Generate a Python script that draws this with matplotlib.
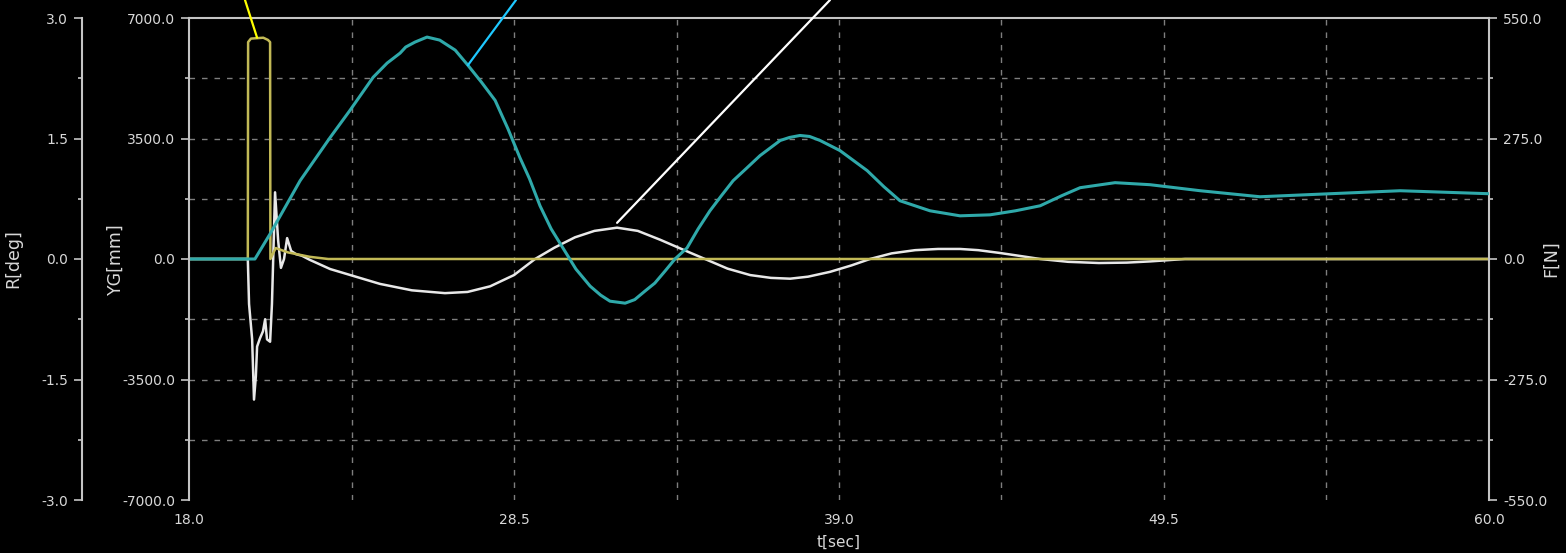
import matplotlib
matplotlib.use("Agg")
import matplotlib.pyplot as plt
import numpy as np

# time axis ticks
t_ticks = [18.0, 28.5, 39.0, 49.5, 60.0]
r_ticks = [-3.0, -1.5, 0.0, 1.5, 3.0]
yg_ticks = [-7000.0, -3500.0, 0.0, 3500.0, 7000.0]
f_ticks = [-550.0, -275.0, 0.0, 275.0, 550.0]

# YG[mm] (cyan)
t_yg = [18.0, 20.13, 20.62, 21.59, 22.56, 23.2, 23.95, 24.4, 24.82, 25.0, 25.3, 25.69, 26.1,
        26.6, 27.01, 27.45, 27.89, 28.3, 28.69, 29.0, 29.34, 29.7, 30.08, 30.5, 30.96, 31.3,
        31.6, 32.09, 32.4, 32.73, 33.05, 33.38, 33.7, 34.09, 34.45, 34.83, 35.2, 35.58, 36.0,
        36.45, 37.1, 37.4, 37.74, 38.05, 38.39, 39.03, 39.91, 40.45, 40.97, 41.94, 42.91,
        43.88, 44.7, 45.5, 46.2, 46.79, 47.92, 49.05, 50.67, 52.6, 54.87, 57.13, 60.0]
yg = [0, 0, 730, 2275, 3529, 4317, 5279, 5690, 5980, 6155, 6300, 6446, 6358,
      6067, 5629, 5134, 4608, 3792, 2946, 2333, 1546, 875, 321, -292, -788, -1050,
      -1225, -1283, -1180, -933, -700, -350, 0, 321, 875, 1400, 1838, 2275, 2625,
      3004, 3442, 3530, 3588, 3559, 3442, 3150, 2567, 2100, 1692, 1400, 1254,
      1283, 1400, 1546, 1840, 2071, 2217, 2158, 1983, 1808, 1896, 1983, 1896]

# R[deg] (white)
t_r = [18.0, 19.90, 19.94, 20.04, 20.10, 20.16, 20.20, 20.29, 20.39, 20.46, 20.52, 20.62,
       20.68, 20.78, 20.88, 20.97, 21.07, 21.17, 21.30, 21.46, 21.65, 21.9, 22.56, 23.3,
       24.17, 25.2, 26.27, 27.0, 27.73, 28.5, 29.18, 29.8, 30.47, 31.1, 31.83, 32.5,
       33.22, 34.0, 34.67, 35.4, 36.13, 36.8, 37.42, 38.0, 38.71, 39.4, 40.0, 40.7,
       41.46, 42.2, 42.91, 43.5, 44.2, 44.9, 45.5, 46.4, 47.4, 48.3, 49.05, 50.18, 60.0]
r = [0, 0, -0.56, -1.0, -1.75, -1.46, -1.09, -0.99, -0.9, -0.75, -1.0, -1.03,
     -0.56, 0.83, 0.23, -0.11, 0.0, 0.26, 0.1, 0.06, 0.04, -0.01, -0.125, -0.21,
     -0.31, -0.39, -0.425, -0.41, -0.34, -0.2, 0.0, 0.14, 0.27, 0.35, 0.39, 0.35,
     0.24, 0.11, 0.0, -0.12, -0.2, -0.235, -0.245, -0.22, -0.16, -0.08, 0.0, 0.07,
     0.11, 0.125, 0.125, 0.11, 0.075, 0.035, 0.0, -0.035, -0.05, -0.045, -0.03, 0.0, 0.0]

# F[N] (yellow)
t_f = [18.0, 19.90, 19.91, 20.0, 20.4, 20.55, 20.62, 20.63, 20.8, 21.2, 21.9, 22.5, 60.0]
f = [0, 0, 495, 503, 505, 500, 495, 0, 25, 15, 5, 0, 0]

W, H = 1566, 553
fig = plt.figure(figsize=(W / 100, H / 100), dpi=100, facecolor="black")
L, R_, T, B = 189, 1489, 18, 500
rect = [L / W, 1 - B / H, (R_ - L) / W, (B - T) / H]

spine_c = "#c4c4c4"
text_c = "#d8d8d8"
grid_c = "#7e7e7e"

axR = fig.add_axes(rect, facecolor="black")
axF = axR.twinx()
axY = axR.twinx()

# grid on the bottom axes
for v in [-2.25, -1.5, -0.75, 0.75, 1.5, 2.25]:
    axR.axhline(v, color=grid_c, lw=1.0, ls=(0, (4, 5)), zorder=0)
for v in np.arange(18 + 5.25, 60, 5.25):
    axR.axvline(v, color=grid_c, lw=1.0, ls=(0, (4, 5)), zorder=0)

axR.plot(t_r, r, color="#e8e8e8", lw=1.8)
axF.plot(t_f, f, color="#c2b956", lw=1.8)
axY.plot(t_yg, yg, color="#2fa9aa", lw=2.2)

axR.set_xlim(18, 60)
axR.set_ylim(-3, 3)
axF.set_ylim(-550, 550)
axY.set_ylim(-7000, 7000)

for a in (axR, axF, axY):
    for s in a.spines.values():
        s.set_visible(False)
        s.set_color(spine_c)
        s.set_linewidth(1.5)

axR.spines["top"].set_visible(True)
axR.spines["left"].set_visible(True)
axR.spines["left"].set_position(("outward", 107 * 0.72))
axF.spines["right"].set_visible(True)
axY.spines["left"].set_visible(True)
axY.yaxis.tick_left()
axY.yaxis.set_label_position("left")

axR.set_xticks(t_ticks)
axR.set_xticklabels([f"{v:.1f}" for v in t_ticks])
axR.tick_params(axis="x", length=0, pad=9, colors=text_c, labelsize=10)

axR.set_yticks(r_ticks)
axR.set_yticklabels([f"{v:.1f}" for v in r_ticks])
axR.set_yticks([-2.25, -0.75, 0.75, 2.25], minor=True)

axY.set_yticks(yg_ticks)
axY.set_yticklabels([f"{v:.1f}" for v in yg_ticks])
axY.set_yticks([-5250, -1750, 1750, 5250], minor=True)

axF.set_yticks(f_ticks)
axF.set_yticklabels([f"{v:.1f}" for v in f_ticks])
axF.set_yticks([-412.5, -137.5, 137.5, 412.5], minor=True)

for a in (axR, axF, axY):
    a.tick_params(axis="y", which="major", length=6, width=1.2, color=spine_c,
                  colors=text_c, labelsize=10, pad=4)
    a.tick_params(axis="y", which="minor", length=3, width=1.2, color=spine_c)

axR.set_ylabel("R[deg]", color=text_c, fontsize=12.5)
axR.yaxis.set_label_coords((22 - L) / (R_ - L), 0.5)
axY.set_ylabel("YG[mm]", color=text_c, fontsize=12.5)
axY.yaxis.set_label_coords((125 - L) / (R_ - L), 0.5)
axF.set_ylabel("F[N]", color=text_c, fontsize=12.5, rotation=90, va="center")
axF.yaxis.set_label_coords((1551 - L) / (R_ - L), 0.5)
axR.set_xlabel("t[sec]", color=text_c, fontsize=11)
axR.xaxis.set_label_coords(0.5, (B - 542) / (B - T))
axR.xaxis.label.set_va("center")

# leader lines running off the top edge
axF.annotate("", xy=(20.2, 505), xytext=(245 / W, 1.0), textcoords="figure fraction",
             arrowprops=dict(arrowstyle="-", color="#ffff00", lw=1.6, shrinkA=0, shrinkB=0),
             annotation_clip=False)
axY.annotate("", xy=(27.01, 5629), xytext=(516 / W, 1.0), textcoords="figure fraction",
             arrowprops=dict(arrowstyle="-", color="#1ec8ff", lw=1.6, shrinkA=0, shrinkB=0),
             annotation_clip=False)
axR.annotate("", xy=(31.83, 0.45), xytext=(830 / W, 1.0), textcoords="figure fraction",
             arrowprops=dict(arrowstyle="-", color="white", lw=1.6, shrinkA=0, shrinkB=0),
             annotation_clip=False)

fig.savefig("out.png", dpi=100, facecolor="black")
